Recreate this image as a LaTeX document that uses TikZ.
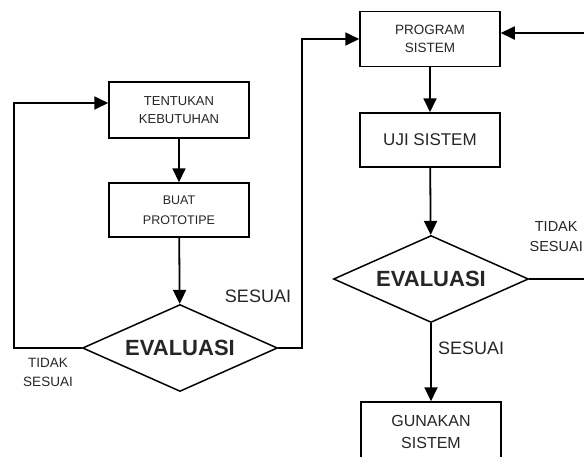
\documentclass[tikz,border=0pt]{standalone}
\usepackage{fontspec}
\setmainfont{Liberation Sans}
\usetikzlibrary{shapes.geometric,arrows.meta}
\definecolor{txt}{gray}{0.15}
\tikzset{
  box/.style={draw=black, line width=1.5pt, rectangle, inner sep=0pt, minimum width=140pt, text=txt, align=center},
  dec/.style={draw=black, line width=1.5pt, diamond, shape aspect=2.24, inner sep=0pt, minimum width=195pt, minimum height=87pt, text=txt, font=\fontsize{22}{26}\selectfont\bfseries},
  arr/.style={line width=1.8pt, -{Triangle[length=14pt,width=13pt]}},
  ln/.style={line width=1.8pt},
  lbl/.style={text=txt, inner sep=0pt, align=center}
}
\begin{document}
\begin{tikzpicture}[x=1pt,y=-1pt]
\useasboundingbox (0,0) rectangle (584,456);
\clip (0,0) rectangle (584,456);
\fill[white] (0,0) rectangle (584,456);
% left column
\node[box, minimum height=56pt, font=\fontsize{13}{18}\selectfont] (b1) at (179,110) {TENTUKAN\\KEBUTUHAN};
\node[box, minimum height=54pt, font=\fontsize{12.5}{20}\selectfont] (b2) at (179,210) {BUAT\\PROTOTIPE};
\node[dec] (d1) at (180,348) {EVALUASI};
% right column
\node[box, minimum height=55pt, font=\fontsize{13.5}{18}\selectfont] (b3) at (430,39) {PROGRAM\\SISTEM};
\node[box, minimum height=54pt, font=\fontsize{17}{20}\selectfont] (b4) at (430,140) {UJI SISTEM};
\node[dec] (d2) at (431,279) {EVALUASI};
\node[box, minimum height=60pt, font=\fontsize{16}{22}\selectfont] (b5) at (431,432) {GUNAKAN\\SISTEM};
% connectors
\draw[arr] (b1) -- (b2);
\draw[arr] (b2) -- (d1);
\draw[arr] (b3) -- (b4);
\draw[arr] (b4) -- (d2);
\draw[arr] (d2) -- (b5);
\coordinate (la) at (14,103);
\draw[arr] (d1.west) -| (la) -- (b1.west |- la);
\coordinate (ra) at (302,39);
\draw[arr] (d1.east) -| (ra) -- (b3.west);
\coordinate (rb) at (594,33);
\draw[arr] (d2.east) -| (rb) -- (b3.east |- rb);
% labels
\node[lbl, font=\fontsize{18}{20}\selectfont] (s1) at (258,296) {SESUAI};
\node[lbl, font=\fontsize{13.5}{19}\selectfont] (t1) at (48,372) {TIDAK\\SESUAI};
\node[lbl, font=\fontsize{14.5}{20}\selectfont, anchor=east] (t2) at (583,237) {TIDAK\\SESUAI};
\node[lbl, font=\fontsize{18}{20}\selectfont, anchor=west] (s2) at (438,348) {SESUAI};
\end{tikzpicture}
\end{document}
